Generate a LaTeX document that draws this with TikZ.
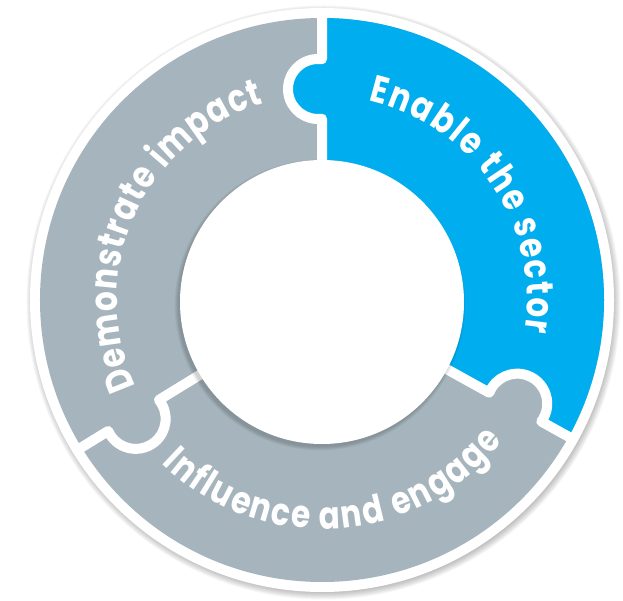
\documentclass[tikz,border=0pt]{standalone}
\usepackage{fontspec}
\setmainfont{Poppins}[FakeStretch=0.82]
\usetikzlibrary{decorations.text,calc}
\definecolor{ringblue}{RGB}{0,174,239}
\definecolor{ringgray}{RGB}{166,181,189}
\newcommand\lblfont{\color{white}\bfseries\fontsize{38}{38}\selectfont}
% seam at angle #1, knob centre radius #2 (knob bulges to larger angle)
\newcommand\seampath[2]{%
  (#1:135) -- (#1:{#2-29.73})
  arc[start angle={#1+187.66}, end angle={#1-7.66}, radius=30]
  -- (#1:289)}
\begin{document}
\begin{tikzpicture}[x=1pt,y=1pt,
  seam/.style={draw=white, line width=10pt, line join=round},
  lbl/.style={decorate, decoration={text along path, text align={fit to path}}}]
\useasboundingbox (-322,-301) rectangle (301,300);
% outer soft shadow
\foreach \i in {0,...,7} \fill[black,opacity=0.035] (1.5,-2.5) circle ({290+\i});
\fill[white] (0,0) circle (292);
% ring segments
\fill[ringgray,even odd rule] (0,0) circle (282) (0,0) circle (130);
\fill[ringblue] (-29:130) arc[start angle=-29,end angle=90,radius=130]
  -- (90:282) arc[start angle=90,end angle=-29,radius=282] -- cycle;
% puzzle knobs
\fill[ringblue] ([shift={(180:4)}]90:211) circle (30);
\fill[ringgray] ([shift={(61:4)}]-29:221) circle (30);
\fill[ringgray] ([shift={(301.5:4)}]211.5:221) circle (30);
% seams
\draw[seam] \seampath{90}{211};
\draw[seam] \seampath{-29}{221};
\draw[seam] \seampath{211.5}{221};
% inner disc shadow and disc
\foreach \i in {0,...,5} \fill[black,opacity=0.03] (-2,-5) circle ({142+\i*0.7});
\fill[white] (0,-2) circle (142);
% labels
\path[lbl, decoration={text={|\lblfont|Enable the sector}}]
  (77:205) arc[start angle=77, end angle=-9, radius=205];
\path[lbl, decoration={text={|\lblfont|Demonstrate impact}}]
  (205:205) arc[start angle=205, end angle=106.5, radius=205];
\path[lbl, decoration={text={|\lblfont|Influence and engage}}]
  (225.5:229) arc[start angle=225.5, end angle=322, radius=229];
\end{tikzpicture}
\end{document}
